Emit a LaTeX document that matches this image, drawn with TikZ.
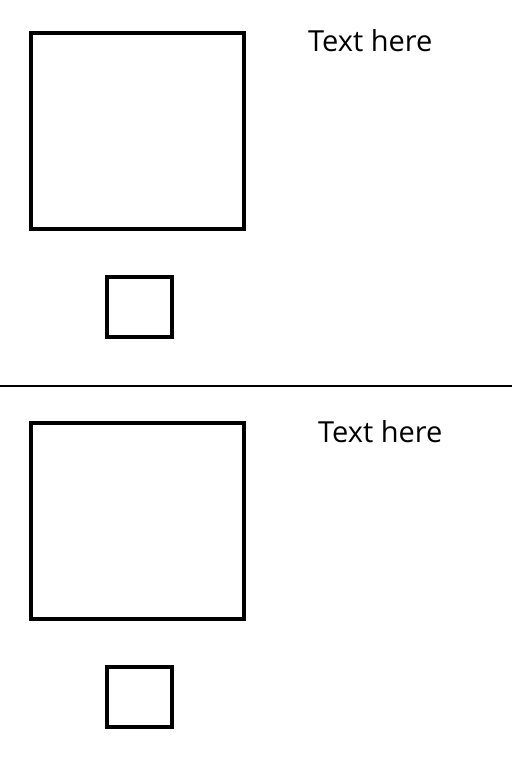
\documentclass[tikz,border=0pt]{standalone}
\usepackage{fontspec}
\setmainfont{Open Sans}
\begin{document}
\begin{tikzpicture}[x=1pt,y=-1pt,
  bigbox/.style={draw=black,line width=4pt},
  smallbox/.style={draw=black,line width=4pt},
  label/.style={inner sep=0pt,anchor=base west,font=\fontsize{29}{31}\selectfont}]
\useasboundingbox[fill=white] (0,0) rectangle (512,768);
% top panel
\draw[bigbox] (31,33) rectangle (244,228.5);
\draw[smallbox] (107,276.5) rectangle (172,336.5);
\node[label] (t1) at (308,52) {Text here};
% divider
\coordinate (dl) at (0,385.7);
\coordinate (dr) at (512,385.7);
\draw[line width=2pt] (dl) -- (dr);
% bottom panel
\draw[bigbox] (31,423) rectangle (244,618.5);
\draw[smallbox] (107,666.5) rectangle (172,726.5);
\node[label] (t2) at (318,442) {Text here};
\end{tikzpicture}
\end{document}
